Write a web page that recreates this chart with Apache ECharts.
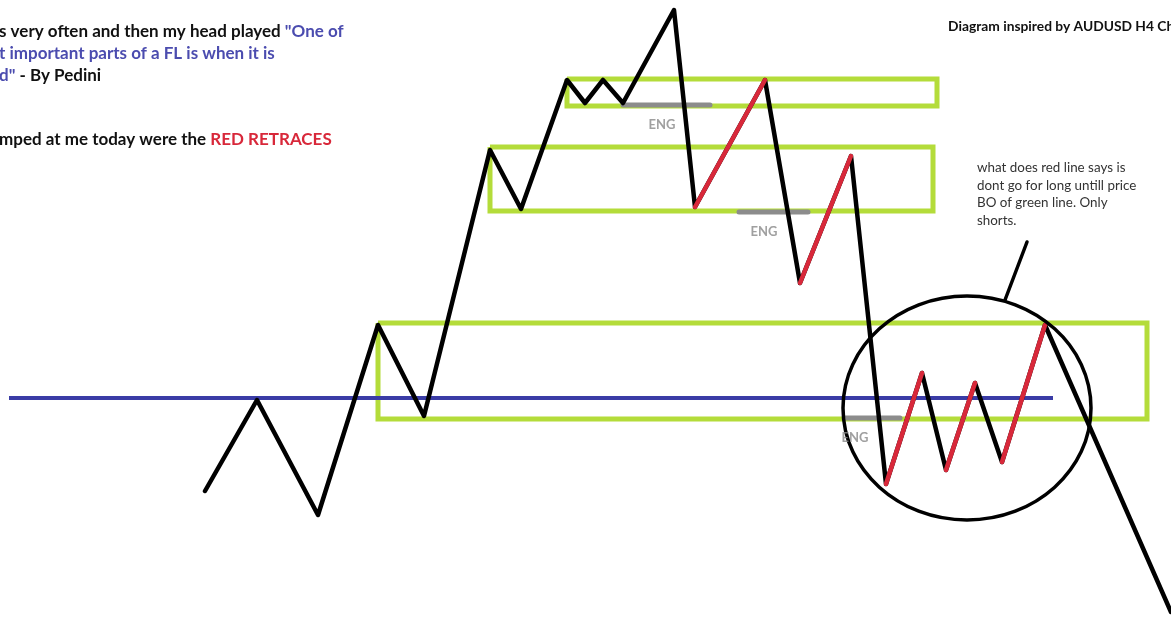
<!DOCTYPE html>
<html><head><meta charset="utf-8">
<script src="https://cdn.jsdelivr.net/npm/echarts@6/dist/echarts.min.js"></script>
<style>html,body{margin:0;padding:0;background:#fff;overflow:hidden}#c{width:1171px;height:617px}</style>
</head><body><div id="c"></div>
<script>
// ---- data (diagram units: x = time, y = price level, axis inverted) ----
const swingX = [205,257,318,378,424,490,521,567,585,603,623,674,695,765,800,851,886,922,946,975,1002,1045,1171];
const swingY = [491,400,515,325,416,150,209,80,103,80,103,10,207,80,283,156,484,373,470,383,462,325,612];
const redLegStarts = [12,14,16,18,20];
const zoneX0 = [567,490,378];
const zoneX1 = [937,933,1147];
const zoneTop = [79,147,323];
const zoneBottom = [106,211,419];
const levelX = [9,1053];
const levelY = 398;
const engX0 = [623,739,845];
const engX1 = [710,808,900];
const engY = [105,212,418];
const engLabelX = [662,764,855];
const engLabelY = [125,232,438];
const circleCenter = [967,408];
const circleRadius = [124,112];
const pointerX = [1005,1027];
const pointerY = [300,242];

const GREEN = '#b4dc3a', BLUE = '#3a3ca6', RED = '#d8283a', GREY = '#8c8c8c', BLACK = '#000';
const series = [];
for (let i = 0; i < zoneX0.length; i++) {
  series.push({type:'line', silent:true, symbol:'none', z:1, animation:false,
    lineStyle:{color:GREEN, width:5, join:'miter'},
    data:[[zoneX0[i],zoneTop[i]],[zoneX1[i],zoneTop[i]],[zoneX1[i],zoneBottom[i]],[zoneX0[i],zoneBottom[i]],[zoneX0[i],zoneTop[i]]]});
}
series.push({type:'line', silent:true, symbol:'none', z:2, animation:false,
  lineStyle:{color:BLUE, width:4}, data:[[levelX[0],levelY],[levelX[1],levelY]]});
for (let i = 0; i < engX0.length; i++) {
  series.push({type:'line', silent:true, symbol:'none', z:3, animation:false,
    lineStyle:{color:GREY, width:5, cap:'round'}, data:[[engX0[i],engY[i]],[engX1[i],engY[i]]]});
}
series.push({type:'line', silent:true, symbol:'none', z:4, animation:false,
  lineStyle:{color:BLACK, width:4.5, join:'round', cap:'round'},
  data: swingX.map((x,i)=>[x, swingY[i]])});
redLegStarts.forEach(i => {
  series.push({type:'line', silent:true, symbol:'none', z:5, animation:false,
    lineStyle:{color:RED, width:4.5, cap:'round'},
    data:[[swingX[i],swingY[i]],[swingX[i+1],swingY[i+1]]]});
});
series.push({type:'line', silent:true, symbol:'none', z:6, animation:false,
  lineStyle:{color:BLACK, width:3.5, cap:'round'},
  data:[[pointerX[0],pointerY[0]],[pointerX[1],pointerY[1]]]});
series.push({type:'custom', silent:true, z:6, animation:false, clip:false,
  data:[[circleCenter[0], circleCenter[1]]],
  renderItem:(params, api) => {
    const c = api.coord([api.value(0), api.value(1)]);
    const s = api.size([circleRadius[0], circleRadius[1]]);
    return {type:'ellipse', shape:{cx:c[0], cy:c[1], rx:Math.abs(s[0]), ry:Math.abs(s[1])},
      style:{fill:null, stroke:BLACK, lineWidth:3.5}};
  }});
series.push({type:'scatter', silent:true, z:7, animation:false, symbolSize:0,
  data: engLabelX.map((x,i)=>[x, engLabelY[i]]),
  label:{show:true, position:'inside', formatter:'ENG', color:'#888', fontFamily:'Lato', fontWeight:'bold', fontSize:13}});

const chart = echarts.init(document.getElementById('c'), null, {renderer:'canvas'});
const FONT = 'Lato';
const F = 'bold 17px ' + FONT;
chart.setOption({
  backgroundColor:'#fff',
  animation:false,
  grid:{left:0, right:0, top:0, bottom:0},
  xAxis:{type:'value', min:0, max:1171, show:false},
  yAxis:{type:'value', min:0, max:617, inverse:true, show:false},
  series,
  graphic:[
    {type:'text', left:-1, top:23, z:10, style:{text:'{k|s very often and then my head played }{b|"One of}',
      rich:{k:{fill:'#111', font:F}, b:{fill:'#4b4caf', font:F}}}},
    {type:'text', left:-1, top:45, z:10, style:{text:'{b|t important parts of a FL is when it is}',
      rich:{b:{fill:'#4b4caf', font:F}}}},
    {type:'text', left:-1, top:67, z:10, style:{text:'{b|d"}{k| - By Pedini}',
      rich:{k:{fill:'#111', font:F}, b:{fill:'#4b4caf', font:F}}}},
    {type:'text', left:-1, top:131, z:10, style:{text:'{k|mped at me today were the }{r|RED RETRACES}',
      rich:{k:{fill:'#111', font:F}, r:{fill:'#d8283a', font:F}}}},
    {type:'text', left:948, top:20, z:10, style:{text:'Diagram inspired by AUDUSD H4 Chart', fill:'#111', font:'bold 13.8px '+FONT}},
    {type:'text', left:977, top:159, z:10, style:{text:'what does red line says is\ndont go for long untill price\nBO of green line. Only\nshorts.', fill:'#333', font:'13.4px '+FONT, lineHeight:17.5}}
  ]
});
</script>
</body></html>
